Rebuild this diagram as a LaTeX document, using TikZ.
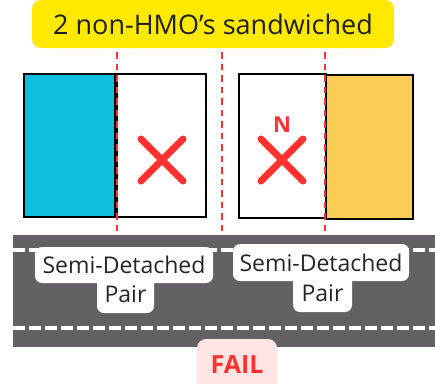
\documentclass[tikz,border=0pt]{standalone}
\usepackage{fontspec}
\setmainfont{Open Sans}
\usepackage{tikz}
\usetikzlibrary{positioning}
\definecolor{titleyellow}{RGB}{255,233,0}
\definecolor{bluehouse}{RGB}{16,190,222}
\definecolor{orangehouse}{RGB}{252,205,84}
\definecolor{roadgray}{RGB}{99,97,99}
\definecolor{markred}{RGB}{255,49,49}
\definecolor{failbg}{RGB}{255,228,228}
\tikzset{
    house/.style={draw=black, line width=2pt, inner sep=0pt, anchor=north west},
    divider/.style={draw=markred, line width=2.5pt, dash pattern=on 6.5pt off 5pt},
    lane/.style={draw=white, line width=4pt, dash pattern=on 11.5pt off 4.5pt},
    cross/.style={draw=markred, line width=7pt, line cap=round},
    pairlabel/.style={fill=white, rounded corners=7pt, inner sep=0pt,
        font=\fontsize{23}{27}\selectfont, text=black!85},
}

\begin{document}
\begin{tikzpicture}[x=1pt, y=-1pt]
\useasboundingbox (0,0) rectangle (435,383);
	% title
	\node[fill=titleyellow, rounded corners=9pt, minimum width=362pt, minimum height=48pt,
	      font=\fontsize{27}{32}\selectfont, text=black!88] (title) at (213,24) {2 non-HMO’s sandwiched};
	% houses
	\node[house, fill=bluehouse, minimum width=91pt, minimum height=143pt] (blueA) at (23,73) {};
	\node[house, fill=white, minimum width=89pt, minimum height=143pt] (plainA) at (116,73) {};
	\node[house, fill=white, minimum width=87pt, minimum height=144pt] (plainB) at (238,73) {};
	\node[house, fill=orangehouse, minimum width=87pt, minimum height=144pt] (orangeB) at (325,74) {};
	% dividers
	\coordinate (divA1) at (117,52);
	\coordinate (divA2) at (117,237);
	\coordinate (divB1) at (222,52);
	\coordinate (divB2) at (222,237);
	\coordinate (divC1) at (325,52);
	\coordinate (divC2) at (325,237);
	\draw[divider] (divA1) -- (divA2);
	\draw[divider] (divB1) -- (divB2);
	\draw[divider] (divC1) -- (divC2);
	% crosses
	\coordinate (crossA) at (162,160);
	\coordinate (crossB) at (282,160);
	\draw[cross] (crossA) +(-21,-21) -- +(21,21) (crossA) +(-21,21) -- +(21,-21);
	\draw[cross] (crossB) +(-21,-21) -- +(21,21) (crossB) +(-21,21) -- +(21,-21);
	\node[text=markred, font=\bfseries\fontsize{22}{26}\selectfont] (nmark) at (282,125) {N};
	% road
	\fill[roadgray] (13,235) rectangle (435,347);
	\coordinate (laneA1) at (13,250);
	\coordinate (laneA2) at (435,250);
	\coordinate (laneB1) at (13,328);
	\coordinate (laneB2) at (435,328);
	\draw[lane] (laneA1) -- (laneA2);
	\draw[lane] (laneB1) -- (laneB2);
	% labels
	\node[pairlabel, minimum width=178pt, minimum height=36pt] (semiA) at (124,265) {Semi-Detached};
	\node[pairlabel, minimum width=57pt, minimum height=38pt] (pairA) at (125.5,294) {Pair};
	\node[pairlabel, minimum width=176pt, minimum height=37pt] (semiB) at (321,262.5) {Semi-Detached};
	\node[pairlabel, minimum width=59pt, minimum height=38pt] (pairB) at (322.5,293) {Pair};
	\node[fill=failbg, rounded corners=9pt, minimum width=80pt, minimum height=52pt,
	      text=markred, font=\bfseries\fontsize{25}{30}\selectfont] (fail) at (237,365) {FAIL};
\end{tikzpicture}
\end{document}
